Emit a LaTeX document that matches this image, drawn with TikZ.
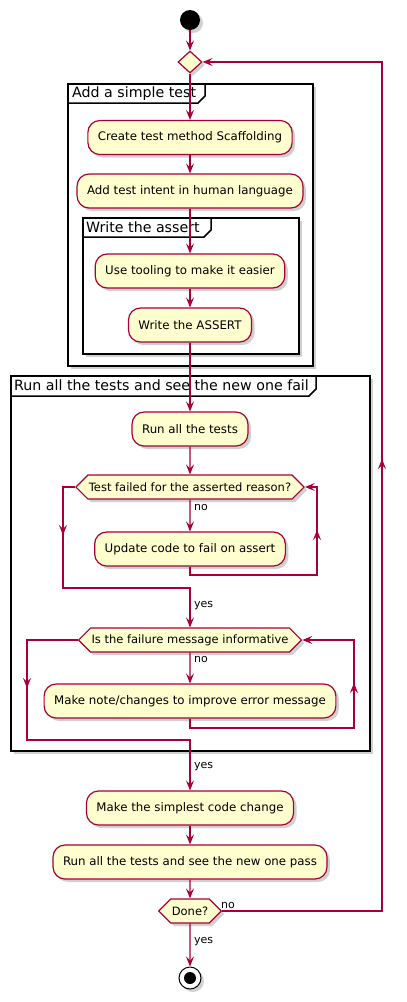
\documentclass[tikz,border=0pt]{standalone}
\usepackage{fontspec}
\setmainfont{DejaVu Sans}
\usetikzlibrary{arrows.meta,shapes.geometric,shapes.symbols,shadows}
\definecolor{pred}{HTML}{A80036}
\definecolor{pfill}{HTML}{FEFECE}
\tikzset{
 shd/.style={drop shadow={shadow xshift=3pt,shadow yshift=-3pt,opacity=0.3,fill=black!60}},
 act/.style={draw=pred, fill=pfill, line width=1.2pt, rounded corners=12pt, minimum height=34pt, inner xsep=10pt, inner ysep=0pt, font=\fontsize{11.8}{14}\selectfont, shd},
 hex/.style={signal, signal to=west and east, signal pointer angle=90, draw=pred, fill=pfill, line width=1.2pt, minimum height=24pt, inner xsep=1pt, inner ysep=0pt, font=\fontsize{11.5}{13}\selectfont, shd},
 flow/.style={draw=pred, line width=1.2pt, -{Stealth[length=10pt,width=8pt,inset=4pt]}},
 frame/.style={draw=black, line width=1.5pt},
 gtitle/.style={anchor=west, inner sep=0pt, font=\fontsize{14.2}{16}\selectfont},
 lbl/.style={anchor=west, inner sep=0pt, font=\fontsize{11}{13}\selectfont},
}
\begin{document}
\begin{tikzpicture}[x=1pt,y=-1pt]
\useasboundingbox (0,0) rectangle (407,1002);
% groups
\draw[frame, fill=white, shd] (68,84) rectangle (313,366);
\node[gtitle] (t1) at (72,93.5) {Add a simple test};
\draw[frame] (68,103) -- (198,103) -- (205,96) -- (205,84);
\draw[frame, fill=white, shd] (83,218) rectangle (299,354);
\node[gtitle] (t2) at (86,227.5) {Write the assert};
\draw[frame] (83,237) -- (204,237) -- (211,230) -- (211,218);
\draw[frame, fill=white, shd] (11,376) rectangle (370,751);
\node[gtitle] (t3) at (14,385.5) {Run all the tests and see the new one fail};
\draw[frame] (11,396) -- (309,396) -- (316,389) -- (316,376);
% nodes
\node[circle, fill=black, minimum size=20pt, inner sep=0pt, shd] (start) at (190,20) {};
\node[diamond, draw=pred, fill=pfill, line width=1.2pt, minimum width=24pt, minimum height=22pt, inner sep=0pt, shd] (merge) at (190,62) {};
\node[act] (create) at (190,137.5) {Create test method Scaffolding};
\node[act] (intent) at (190,191) {Add test intent in human language};
\node[act] (tool) at (190,271) {Use tooling to make it easier};
\node[act] (assert) at (190,325) {Write the ASSERT};
\node[act] (runall) at (190,429) {Run all the tests};
\node[hex] (h1) at (190,487) {Test failed for the asserted reason?};
\node[act] (upd) at (190,549) {Update code to fail on assert};
\node[hex] (h2) at (190,640) {Is the failure message informative};
\node[act] (note) at (190,701) {Make note/changes to improve error message};
\node[act] (simple) at (190,808) {Make the simplest code change};
\node[act] (pass) at (190,862) {Run all the tests and see the new one pass};
\node[hex] (done) at (190,911) {Done?};
\node[circle, draw=black, fill=white, line width=1pt, minimum size=22pt, inner sep=0pt, shd] (stop) at (190,978) {};
\node[circle, fill=black, minimum size=12pt, inner sep=0pt] (stopin) at (190,978) {};
% coordinates
\coordinate (r1b) at (317,575);
\coordinate (r1t) at (317,487);
\coordinate (r1m) at (317,530);
\coordinate (l1t) at (63,487);
\coordinate (l1b) at (63,588);
\coordinate (l1m) at (63,535);
\coordinate (j1) at (190,588);
\coordinate (r2b) at (354,728);
\coordinate (r2t) at (354,640);
\coordinate (r2m) at (354,683);
\coordinate (l2t) at (27,640);
\coordinate (l2b) at (27,740);
\coordinate (l2m) at (27,688);
\coordinate (j2) at (190,740);
\coordinate (lpb) at (382,911);
\coordinate (lpt) at (382,62);
\coordinate (lpm) at (382,459);
% connectors
\draw[flow] (start) -- (merge);
\draw[flow] (merge) -- (create);
\draw[flow] (create) -- (intent);
\draw[flow] (intent) -- (tool);
\draw[flow] (tool) -- (assert);
\draw[flow] (assert) -- (runall);
\draw[flow] (runall) -- (h1);
\draw[flow] (h1) -- (upd);
\draw[flow] (upd.south) |- (r1b) -- (r1t) -- (h1.east);
\draw[flow] (r1b) -- (r1m);
\draw[flow] (h1.west) -- (l1t) -- (l1b) -- (j1) -- (h2.north);
\draw[flow] (l1t) -- (l1m);
\draw[flow] (h2) -- (note);
\draw[flow] (note.south) |- (r2b) -- (r2t) -- (h2.east);
\draw[flow] (r2b) -- (r2m);
\draw[flow] (h2.west) -- (l2t) -- (l2b) -- (j2) -- (simple.north);
\draw[flow] (l2t) -- (l2m);
\draw[flow] (simple) -- (pass);
\draw[flow] (pass) -- (done);
\draw[flow] (done.east) -- (lpb) -- (lpt) -- (merge.east);
\draw[flow] (lpb) -- (lpm);
\draw[flow] (done) -- (stop);
% labels
\node[lbl] (no1) at (194,507) {no};
\node[lbl] (yes1) at (194,606) {yes};
\node[lbl] (no2) at (194,659) {no};
\node[lbl] (yes2) at (194,767) {yes};
\node[lbl] (no3) at (221,905) {no};
\node[lbl] (yes3) at (194,942) {yes};
\end{tikzpicture}
\end{document}
